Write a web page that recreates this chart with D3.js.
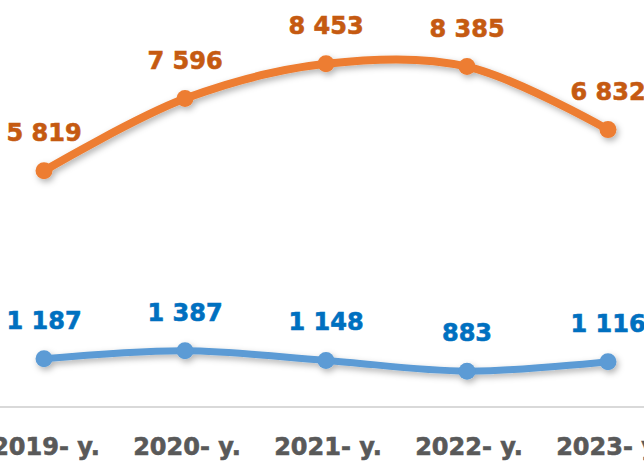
<!DOCTYPE html>
<html lang="en">

<head>
    <meta charset="UTF-8">
    <title>Line chart</title>
    <style>
        body { margin: 0; background: #fff; }
        text { font-family: "DejaVu Sans", sans-serif; font-weight: bold; font-size: 24px; stroke-width: 0.6px; }
    </style>
</head>

<body>
    <div id="d3-container"></div>
    <script src="https://d3js.org/d3.v7.min.js"></script>
    <script>
        const years = ['2019- y.', '2020- y.', '2021- y.', '2022- y.', '2023- y.']
        const orangeValues = [5819, 7596, 8453, 8385, 6832]
        const blueValues = [1187, 1387, 1148, 883, 1116]

        const chartWidth = 644
        const chartHeight = 461
        const baseY = 407

        const svg = d3.select('#d3-container')
            .append('svg')
            .attr('width', chartWidth)
            .attr('height', chartHeight)

        const defs = svg.append('defs')
        const shadow = defs.append('filter')
            .attr('id', 'shadow')
            .attr('x', '-10%').attr('y', '-50%')
            .attr('width', '120%').attr('height', '200%')
        shadow.append('feDropShadow')
            .attr('dx', 2).attr('dy', 3)
            .attr('stdDeviation', 3)
            .attr('flood-color', '#000')
            .attr('flood-opacity', 0.3)

        const xScale = d3.scalePoint()
            .domain(years)
            .range([44, 608])
        const yScale = d3.scaleLinear()
            .domain([0, 10000])
            .range([baseY, 1])

        // baseline
        svg.append('line')
            .attr('x1', 0).attr('x2', chartWidth)
            .attr('y1', baseY).attr('y2', baseY)
            .attr('stroke', '#d9d9d9')
            .attr('stroke-width', 2)

        const series = [
            { values: orangeValues, line: '#ed7d31', label: '#c55a11', width: 8 },
            { values: blueValues, line: '#5b9bd5', label: '#0070c0', width: 7 }
        ]

        const line = d3.line()
            .x((d, i) => xScale(years[i]))
            .y(d => yScale(d))
            .curve(d3.curveCatmullRom.alpha(0.5))

        series.forEach(s => {
            const g = svg.append('g').attr('filter', 'url(#shadow)')
            g.append('path')
                .datum(s.values)
                .attr('d', line)
                .attr('fill', 'none')
                .attr('stroke', s.line)
                .attr('stroke-width', s.width)
                .attr('stroke-linecap', 'round')

            g.selectAll('circle')
                .data(s.values)
                .enter()
                .append('circle')
                .attr('cx', (d, i) => xScale(years[i]))
                .attr('cy', d => yScale(d))
                .attr('r', 8.5)
                .attr('fill', s.line)

            svg.selectAll(null)
                .data(s.values)
                .enter()
                .append('text')
                .attr('x', (d, i) => xScale(years[i]))
                .attr('y', d => yScale(d) - 30)
                .attr('text-anchor', 'middle')
                .attr('fill', s.label)
                .attr('stroke', s.label)
                .text(d => d3.format(',')(d).replace(',', ' '))
        })

        svg.selectAll('.x-label')
            .data(years)
            .enter()
            .append('text')
            .attr('class', 'x-label')
            .attr('x', d => xScale(d) + 2)
            .attr('y', 455)
            .attr('text-anchor', 'middle')
            .attr('fill', '#595959')
            .attr('stroke', '#595959')
            .text(d => d)
    </script>
</body>

</html>
